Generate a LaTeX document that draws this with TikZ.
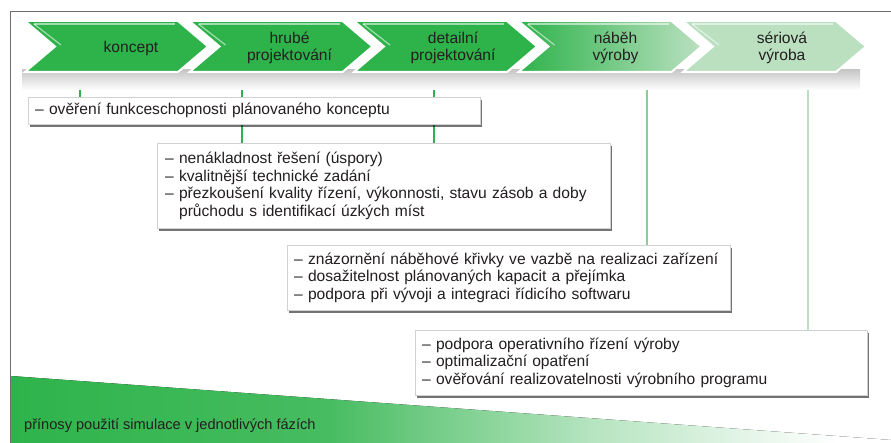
\documentclass[tikz,border=0pt]{standalone}
\usepackage{fontspec}
\setmainfont{Liberation Sans}
\usetikzlibrary{shadows}
\usetikzlibrary{calc}

\definecolor{phasegreen}{RGB}{46,179,75}
\definecolor{midgreen}{RGB}{140,205,150}
\definecolor{palegreen}{RGB}{186,224,192}
\definecolor{inkgray}{RGB}{35,31,32}
\definecolor{framegray}{RGB}{110,110,110}

\pgfdeclarelayer{back}
\pgfsetlayers{back,main}

\pgfdeclarehorizontalshading{wedgefade}{100bp}{color(0bp)=(phasegreen); color(25bp)=(phasegreen); color(43bp)=(phasegreen!88); color(58bp)=(phasegreen!35); color(72bp)=(white); color(100bp)=(white)}

\begin{document}
\begin{tikzpicture}[x=1pt,y=-1pt,
  chev/.style={draw=white, line width=2pt, line join=miter},
  solid phase/.style={fill=phasegreen},
  fading phase/.style={left color=phasegreen, right color=palegreen},
  pale phase/.style={fill=palegreen},
  phase/.style={font=\fontsize{15.6}{17}\selectfont, text=inkgray, align=center},
  gain/.style={draw=black!18, fill=white, anchor=north west, inner xsep=7pt,
    font=\fontsize{15.6}{17.5}\selectfont, text=inkgray, align=left,
    drop shadow={shadow xshift=2pt, shadow yshift=-2.5pt, fill=black, opacity=.55}},
  link/.style={line width=2pt, draw=phasegreen}]
\useasboundingbox (0,0) rectangle (891,443);

\draw[framegray, line width=1pt] (10,443) -- (10,12) -- (891,12);

\fill[shading=wedgefade] (11,376) -- (891,440) -- (891,443) -- (11,443) -- cycle;
\node[anchor=west, font=\fontsize{14.6}{17}\selectfont, text=inkgray, inner sep=0pt]
  (prinosy) at (24,426) {přínosy použití simulace v jednotlivých fázích};

\shade[top color=black!22, middle color=black!28, bottom color=white] (22,70) rectangle (860,90);

\foreach \x/\name/\txt/\col/\dx/\lx in {
  25/koncept/{koncept}/solid phase/106/55,
  189.5/hrube/{hrubé\\projektování}/solid phase/100/52.5,
  354/detail/{detailní\\projektování}/solid phase/99/80,
  518.5/nabeh/{náběh\\výroby}/fading phase/97/128.5,
  683/seriova/{sériová\\výroba}/pale phase/99/125}{
  \path[chev,\col] (\x,21) -- ++(153,0) -- ++(30,25.5) -- ++(-30,25.5)
    -- ++(-153,0) -- ++(30,-25.5) -- cycle;
  \draw[white, opacity=.55, line width=1.2pt] (\x+9,24) -- (\x+150,24);
  \draw[white, opacity=.55, line width=1.2pt] (\x+9,24) -- (\x+36,45);
  \node[phase] (\name) at (\x+\dx,48) {\txt};
  \coordinate (\name-foot) at (\x+\lx,73);
}

\node[gain, minimum width=452pt, minimum height=27pt, text width=438pt] (benefit1) at (28,97)
  {– ověření funkceschopnosti plánovaného konceptu};
\node[gain, minimum width=453pt, minimum height=85pt, text width=437pt, inner xsep=8pt] (benefit2) at (157,143)
  {– nenákladnost řešení (úspory)\\
   – kvalitnější technické zadání\\
   – přezkoušení kvality řízení, výkonnosti, stavu zásob a doby\\
   \phantom{– }průchodu s identifikací úzkých míst};
\node[gain, minimum width=443pt, minimum height=65pt, text width=429pt] (benefit3) at (287,245)
  {– znázornění náběhové křivky ve vazbě na realizaci zařízení\\
   – dosažitelnost plánovaných kapacit a přejímka\\
   – podpora při vývoji a integraci řídicího softwaru};
\node[gain, minimum width=452pt, minimum height=65pt, text width=438pt] (benefit4) at (415,330)
  {– podpora operativního řízení výroby\\
   – optimalizační opatření\\
   – ověřování realizovatelnosti výrobního programu};

\begin{pgfonlayer}{back}
\draw[link] (koncept-foot) -- (koncept-foot |- benefit1.north);
\draw[link] (hrube-foot) -- (hrube-foot |- benefit2.north);
\draw[link] (detail-foot) -- (detail-foot |- benefit2.north);
\draw[link, draw=midgreen] (nabeh-foot) -- (nabeh-foot |- benefit3.north);
\draw[link, draw=palegreen] (seriova-foot) -- (seriova-foot |- benefit4.north);
\end{pgfonlayer}
\end{tikzpicture}
\end{document}
